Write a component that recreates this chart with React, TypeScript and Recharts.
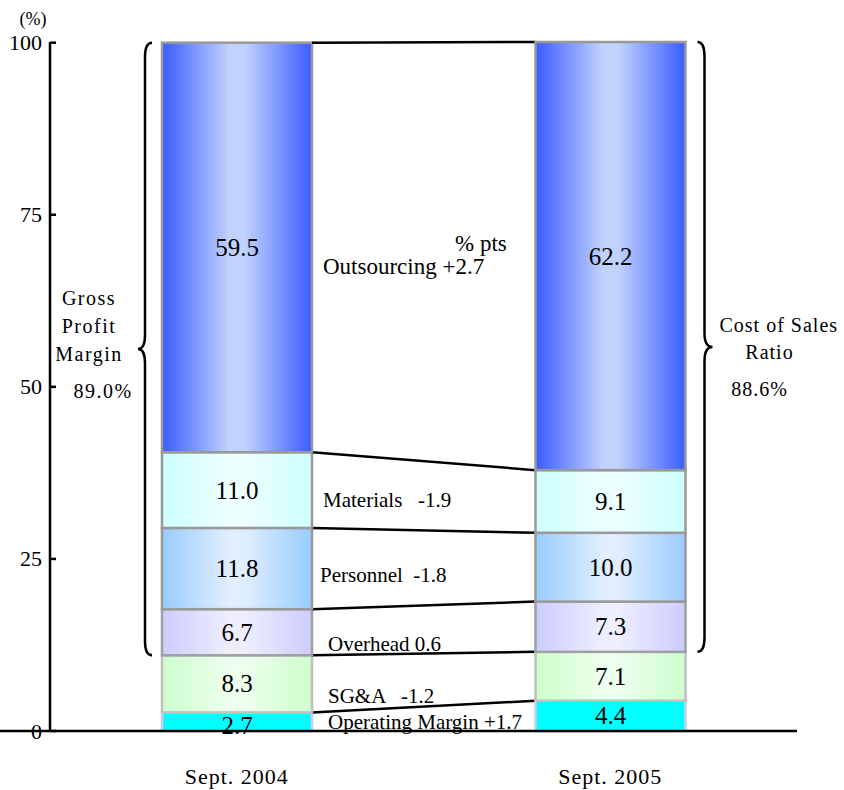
import React from 'react'
import { BarChart, Bar, XAxis, YAxis } from 'recharts'

// values in % of sales, bottom segment first
const CATEGORIES = ['Sept. 2004', 'Sept. 2005']
const SERIES = ['Operating Margin', 'SG&A', 'Overhead', 'Personnel', 'Materials', 'Outsourcing']
const KEYS = ['om', 'sga', 'overhead', 'personnel', 'materials', 'outsourcing']
const SEPT_2004 = [2.7, 8.3, 6.7, 11.8, 11.0, 59.5]
const SEPT_2005 = [4.4, 7.1, 7.3, 10.0, 9.1, 62.2]
const CHANGES = ['+1.7', '-1.2', '0.6', '-1.8', '-1.9', '+2.7']
const Y_TICKS = [0, 25, 50, 75, 100]
const GROSS_PROFIT_MARGIN = '89.0%'
const COST_OF_SALES_RATIO = '88.6%'

const VALUES = [SEPT_2004, SEPT_2005]
const rows = CATEGORIES.map((name, i) => {
  const row: Record<string, string | number> = { name }
  KEYS.forEach((key, k) => { row[key] = VALUES[i][k] })
  return row
})

// layout
const W = 844
const H = 790
const LEFT_AXIS_W = 50
const RIGHT_AXIS_W = 47
const X_AXIS_H = 59
const TOP = 42
const BAR_W = 150
const BAND = (W - LEFT_AXIS_W - RIGHT_AXIS_W) / CATEGORIES.length
const FONT = '"Liberation Serif", "DejaVu Serif", serif'

// fills: [edge, centre] of a horizontal gradient
const FILLS: [string, string][] = [
  ['#00ffff', '#00ffff'],
  ['#ccffcc', '#eeffee'],
  ['#ccccff', '#eeeeff'],
  ['#99ccff', '#e0eeff'],
  ['#ccffff', '#eeffff'],
  ['#3a5cff', '#c2d2ff'],
]
const STROKES = ['#ccccf0', '#c0c0c0', '#a0a0a0', '#999999', '#999999', '#999999']
const SEP = [' ', '   ', ' ', '  ', '   ', ' ']
// annotation nudges relative to the 2004 segment (dx from bar edge, dy from centre)
const NOTE_POS = [
  { dx: 16, dy: 0, size: 21 },
  { dx: 16, dy: 12, size: 21 },
  { dx: 16, dy: 12, size: 21 },
  { dx: 8, dy: 6, size: 21 },
  { dx: 11, dy: 10, size: 21 },
  { dx: 11, dy: 19, size: 23 },
]

const cum = (vals: number[], k: number) => vals.slice(0, k + 1).reduce((a, b) => a + b, 0)

function bracePath(xEnd: number, xm: number, xt: number, top: number, bot: number) {
  const mid = (top + bot) / 2
  const r = 14
  return `M${xEnd},${top} Q${xm},${top} ${xm},${top + r} L${xm},${mid - r} Q${xm},${mid} ${xt},${mid} ` +
    `Q${xm},${mid} ${xm},${mid + r} L${xm},${bot - r} Q${xm},${bot} ${xEnd},${bot}`
}

function makeShape(k: number) {
  return function Segment(props: any) {
    const { x, y, width, height, payload } = props
    let i = CATEGORIES.indexOf(payload?.name)
    if (i < 0) i = props.index ?? 0
    const vals = VALUES[i]
    const hi = cum(vals, k)
    const ppu = height / vals[k]
    const yAt = (v: number) => y + (hi - v) * ppu
    const id = `seg-${k}-${i}`
    const [edge, centre] = FILLS[k]
    const cy = y + height / 2
    const last = k === KEYS.length - 1
    const txt = { fontFamily: FONT, fill: '#000' }

    return (
      <g>
        <defs>
          <linearGradient id={id} x1="0" y1="0" x2="1" y2="0">
            <stop offset="0" stopColor={edge} />
            <stop offset="0.45" stopColor={centre} />
            <stop offset="0.55" stopColor={centre} />
            <stop offset="1" stopColor={edge} />
          </linearGradient>
        </defs>
        <rect x={x} y={y} width={width} height={height} fill={`url(#${id})`} stroke={STROKES[k]} strokeWidth={2.5} />
        <text x={x + width / 2} y={cy + (k === 0 && i === 0 ? 4 : 0)} textAnchor="middle" dominantBaseline="central"
          fontSize={25} {...txt}>
          {vals[k].toFixed(1)}
        </text>

        {i === 0 && (
          <g>
            <line x1={x + width} y1={y} x2={x + BAND} y2={yAt(cum(VALUES[1], k))} stroke="#000" strokeWidth={2.5} />
            <text x={x + width + NOTE_POS[k].dx} y={cy + NOTE_POS[k].dy} dominantBaseline="central"
              fontSize={NOTE_POS[k].size} style={{ whiteSpace: 'pre' }} {...txt}>
              {SERIES[k] + SEP[k] + CHANGES[k]}
            </text>
            {last && (
              <text x={x + width + 143} y={cy - 4} dominantBaseline="central" fontSize={23} {...txt}>% pts</text>
            )}
          </g>
        )}

        {i === 0 && last && (() => {
          const top = y
          const bot = yAt(cum(vals, 1))
          const mid = (top + bot) / 2
          const cx = x - 73
          return (
            <g>
              <path d={bracePath(x - 10, x - 17, x - 24, top, bot)} fill="none" stroke="#000" strokeWidth={2.5} />
              <g fontSize={20} letterSpacing={1.5} textAnchor="middle" {...txt}>
                <text x={cx} y={mid - 51} dominantBaseline="central">Gross</text>
                <text x={cx} y={mid - 23} dominantBaseline="central">Profit</text>
                <text x={cx} y={mid + 5} dominantBaseline="central">Margin</text>
                <text x={cx + 14} y={mid + 42} dominantBaseline="central">{GROSS_PROFIT_MARGIN}</text>
              </g>
            </g>
          )
        })()}

        {i === 1 && last && (() => {
          const top = y
          const bot = yAt(cum(vals, 1))
          const mid = (top + bot) / 2
          const rx = x + width
          return (
            <g>
              <path d={bracePath(rx + 12, rx + 19, rx + 27, top, bot)} fill="none" stroke="#000" strokeWidth={2.5} />
              <g fontSize={20} letterSpacing={1} {...txt}>
                <text x={rx + 34} y={mid - 22} dominantBaseline="central">Cost of Sales</text>
                <text x={rx + 84} y={mid + 5} textAnchor="middle" dominantBaseline="central">Ratio</text>
                <text x={rx + 74} y={mid + 42} textAnchor="middle" dominantBaseline="central">{COST_OF_SALES_RATIO}</text>
              </g>
            </g>
          )
        })()}
      </g>
    )
  }
}

function LeftTick(props: any) {
  const { x, y, payload } = props
  const axisX = x + 8
  return (
    <g>
      <text x={x} y={y} textAnchor="end" dominantBaseline="central" fontFamily={FONT} fontSize={22} fill="#000">
        {payload.value}
      </text>
      <line x1={axisX} y1={y} x2={axisX + 6} y2={y} stroke="#000" strokeWidth={2.5} />
      {payload.value === 100 && (
        <text x={x - 9} y={y - 24} textAnchor="middle" dominantBaseline="central" fontFamily={FONT} fontSize={18} fill="#000">
          (%)
        </text>
      )}
      {payload.value === 0 && <line x1={0} y1={y} x2={axisX} y2={y} stroke="#000" strokeWidth={2.5} />}
    </g>
  )
}

function RightTick(props: any) {
  const { x, y, payload } = props
  return (
    <text x={x + 44} y={y} textAnchor="end" dominantBaseline="central" fontFamily={FONT} fontSize={22} fill="#000">
      {payload.value}
    </text>
  )
}

function CategoryTick(props: any) {
  const { x, y, payload } = props
  return (
    <text x={x} y={y + 37} textAnchor="middle" dominantBaseline="central" fontFamily={FONT} fontSize={22}
      letterSpacing={1} fill="#000">
      {payload.value}
    </text>
  )
}

export default function App() {
  return (
    <div style={{ width: W, height: H, background: '#fff' }}>
      <style>{'body{margin:0}'}</style>
      <BarChart width={W} height={H} data={rows} margin={{ top: TOP, right: 0, bottom: 0, left: 0 }}>
        <XAxis dataKey="name" height={X_AXIS_H} tickLine={false} tick={<CategoryTick />}
          axisLine={{ stroke: '#000', strokeWidth: 2.5 }} />
        <YAxis yAxisId="left" width={LEFT_AXIS_W} domain={[0, 100]} ticks={Y_TICKS} tickLine={false}
          tick={<LeftTick />} axisLine={{ stroke: '#000', strokeWidth: 2.5 }} />
        <YAxis yAxisId="right" orientation="right" width={RIGHT_AXIS_W} domain={[0, 100]} ticks={Y_TICKS}
          tickLine={false} axisLine={false} tick={<RightTick />} />
        {KEYS.map((key, k) => (
          <Bar key={key} yAxisId="left" dataKey={key} stackId="cost" barSize={BAR_W}
            isAnimationActive={false} shape={makeShape(k)} />
        ))}
      </BarChart>
    </div>
  )
}
